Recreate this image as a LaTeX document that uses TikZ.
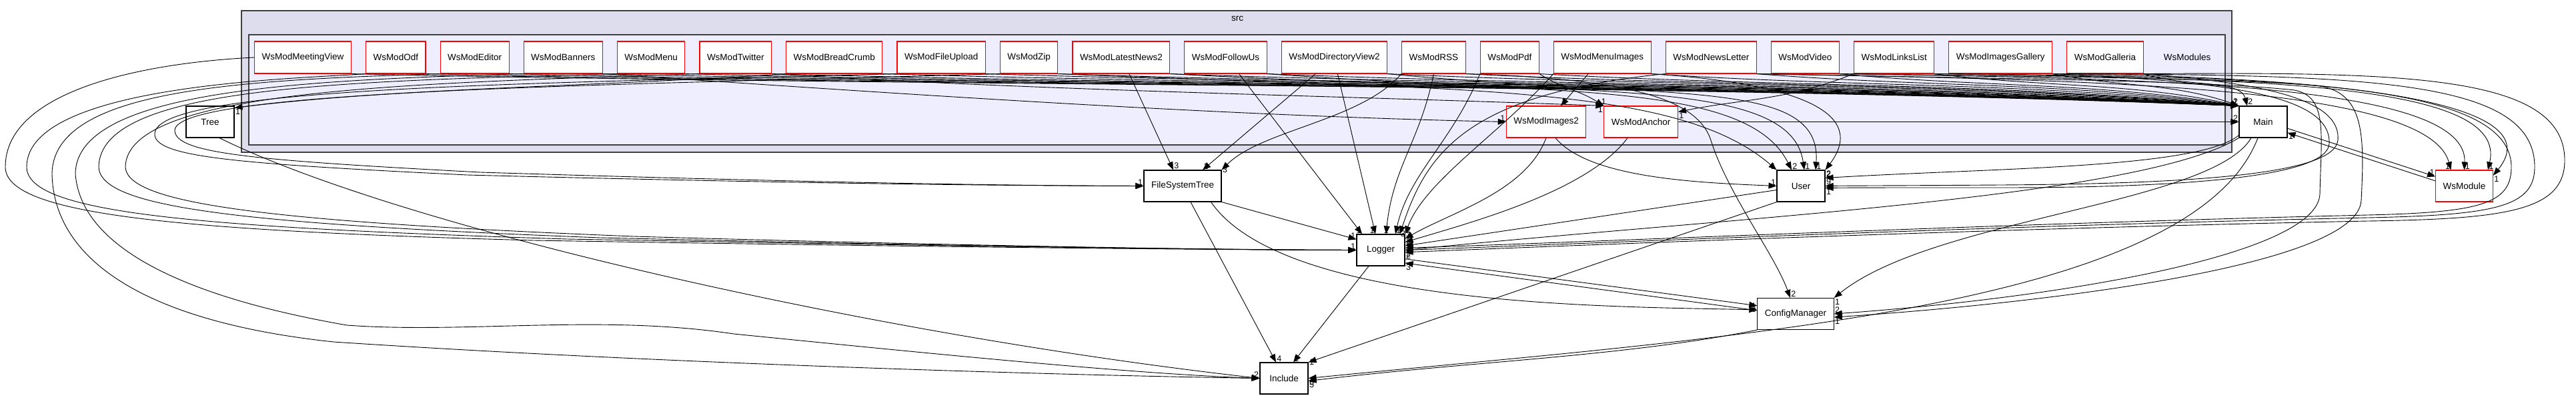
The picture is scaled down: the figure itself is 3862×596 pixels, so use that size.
\documentclass[tikz,border=0pt]{standalone}
\usepackage{fontspec}
\setmainfont{Liberation Sans}
\usetikzlibrary{arrows.meta,positioning}
\definecolor{srcbg}{RGB}{221,221,238}
\definecolor{modbg}{RGB}{238,238,255}
\definecolor{clustline}{RGB}{64,64,64}

\begin{document}
\begin{tikzpicture}[x=1pt, y=1pt,
      mod/.style={draw=red, fill=white, line width=1.1pt,
                  minimum height=48pt, inner xsep=11pt,
                  font=\fontsize{13.5}{16}\selectfont},
      dirbox/.style={draw=black, fill=white, line width=1.1pt,
                  minimum height=47pt, minimum width=72pt, inner xsep=11pt,
                  font=\fontsize{13.5}{16}\selectfont},
      reddir/.style={dirbox, draw=red},
      clust/.style={draw=clustline, line width=1.8pt},
      dep/.style={-{Triangle[length=12pt,width=9pt]}, line width=0.9pt},
      num/.style={font=\fontsize{12.5}{13}\selectfont, inner sep=1pt}
  ]
    \useasboundingbox (0,0) rectangle (3862,-596);
    % clusters
    \draw[clust, fill=srcbg] (362,-16) rectangle (3346,-228);
    \draw[clust, fill=modbg] (373,-52) rectangle (3336,-217);
    \node[font=\fontsize{13.5}{16}\selectfont] (srclbl) at (1855,-28) {src};
    \node[font=\fontsize{13.5}{16}\selectfont] (modlbl) at (3279,-86) {WsModules};

    % top row of modules
    \node[mod] (meeting) at (454,-86) {WsModMeetingView};
    \node[mod, right=21pt of meeting] (odf) {WsModOdf};
    \node[mod, right=21pt of odf] (editor) {WsModEditor};
    \node[mod, right=21pt of editor] (banners) {WsModBanners};
    \node[mod, right=21pt of banners] (menu) {WsModMenu};
    \node[mod, right=21pt of menu] (twitter) {WsModTwitter};
    \node[mod, right=21pt of twitter] (bread) {WsModBreadCrumb};
    \node[mod, right=21pt of bread] (upload) {WsModFileUpload};
    \node[mod, right=21pt of upload] (zip) {WsModZip};
    \node[mod, right=21pt of zip] (news2) {WsModLatestNews2};
    \node[mod, right=21pt of news2] (follow) {WsModFollowUs};
    \node[mod, right=21pt of follow] (dirview) {WsModDirectoryView2};
    \node[mod, right=21pt of dirview] (rss) {WsModRSS};
    \node[mod, right=21pt of rss] (pdf) {WsModPdf};
    \node[mod, right=21pt of pdf] (menuimg) {WsModMenuImages};
    \node[mod, right=21pt of menuimg] (newsl) {WsModNewsLetter};
    \node[mod, right=21pt of newsl] (video) {WsModVideo};
    \node[mod, right=21pt of video] (links) {WsModLinksList};
    \node[mod, right=21pt of links] (gallery) {WsModImagesGallery};
    \node[mod, right=21pt of gallery] (galleria) {WsModGalleria};

    % other directories
    \node[dirbox] (tree) at (315,-182.5) {Tree};
    \node[reddir] (images2) at (2318,-182.5) {WsModImages2};
    \node[reddir, right=26pt of images2] (anchor) {WsModAnchor};
    \node[dirbox] (main) at (3393,-182.5) {Main};
    \node[dirbox] (fst) at (1773,-278.5) {FileSystemTree};
    \node[dirbox] (user) at (2700,-278.5) {User};
    \node[reddir] (wsmodule) at (3694.5,-278.5) {WsModule};
    \node[dirbox] (logger) at (2070,-374.5) {Logger};
    \node[dirbox] (config) at (2692,-470) {ConfigManager};
    \node[dirbox] (include) at (1925,-566.5) {Include};

    % every module -> Main
    \draw[dep] (meeting.south east) .. controls +(900,-20) and +(-900,35) .. (main.north west) node[num,anchor=south east]{1};
    \draw[dep] (odf.south east) .. controls +(870,-20) and +(-870,35) .. (main.north west);
    \draw[dep] (editor.south east) .. controls +(830,-20) and +(-830,35) .. (main.north west) node[num,anchor=south east]{2};
    \draw[dep] (banners.south east) .. controls +(800,-20) and +(-800,35) .. (main.north west);
    \draw[dep] (menu.south east) .. controls +(760,-20) and +(-760,35) .. (main.north west);
    \draw[dep] (twitter.south east) .. controls +(720,-20) and +(-720,35) .. (main.north west);
    \draw[dep] (bread.south east) .. controls +(680,-20) and +(-680,35) .. (main.north west);
    \draw[dep] (upload.south east) .. controls +(630,-20) and +(-630,35) .. (main.north west);
    \draw[dep] (zip.south east) .. controls +(600,-20) and +(-600,35) .. (main.north west);
    \draw[dep] (news2.south east) .. controls +(550,-20) and +(-550,35) .. (main.north west);
    \draw[dep] (follow.south east) .. controls +(500,-20) and +(-500,35) .. (main.north west);
    \draw[dep] (dirview.south east) .. controls +(440,-20) and +(-440,35) .. (main.north west);
    \draw[dep] (rss.south east) .. controls +(400,-20) and +(-400,35) .. (main.north west);
    \draw[dep] (pdf.south east) .. controls +(360,-20) and +(-360,35) .. (main.north west);
    \draw[dep] (menuimg.south east) .. controls +(300,-20) and +(-300,35) .. (main.north west);
    \draw[dep] (newsl.south east) .. controls +(250,-20) and +(-250,35) .. (main.north west);
    \draw[dep] (video.south east) .. controls +(210,-20) and +(-210,35) .. (main.north west);
    \draw[dep] (links.south east) .. controls +(160,-20) and +(-160,35) .. (main.north west);
    \draw[dep] (gallery.south east) .. controls +(100,-20) and +(-100,35) .. (main.north west);
    \draw[dep] (galleria.south east) .. controls +(60,-20) and +(-10,40) .. ([xshift=-24pt]main.north) node[num,anchor=south west]{2};

    % loops round the left side
    \draw[dep] (meeting.west) .. controls (200,-95) and (8,-140) .. (8,-250)
      .. controls (8,-320) and (250,-345) .. (800,-360)
      .. controls (1400,-370) and (1800,-374) .. (logger.west) node[num,anchor=south east]{1};
    \draw[dep] (odf.south west) .. controls (450,-118) and (40,-125) .. (40,-250)
      .. controls (40,-318) and (280,-340) .. (850,-358)
      .. controls (1400,-368) and (1800,-374) .. (logger.west);
    \draw[dep] (menu.south west) .. controls (500,-122) and (150,-130) .. (148,-250)
      .. controls (150,-310) and (350,-335) .. (900,-356)
      .. controls (1400,-368) and (1800,-374) .. (logger.west);
    \draw[dep] (twitter.south west) .. controls (600,-125) and (190,-135) .. (188,-250)
      .. controls (190,-305) and (400,-332) .. (950,-354)
      .. controls (1400,-367) and (1800,-374) .. (logger.west);
    \draw[dep] (editor.south west) .. controls (350,-120) and (80,-135) .. (78,-260)
      .. controls (80,-380) and (200,-480) .. (500,-512)
      .. controls (1000,-545) and (1600,-562) .. (include.west) node[num,anchor=south east]{2};
    \draw[dep] (banners.south west) .. controls (450,-120) and (115,-135) .. (113,-260)
      .. controls (120,-360) and (250,-440) .. (520,-487)
      .. controls (700,-500) and (900,-470) .. (1100,-500)
      .. controls (1400,-530) and (1700,-560) .. (include.west);
    \draw[dep] (upload.south west) .. controls (800,-125) and (235,-130) .. (232,-200)
      .. controls (230,-235) and (350,-245) .. (700,-262)
      .. controls (1200,-275) and (1500,-278) .. (fst.west) node[num,anchor=south east]{1};
    \draw[dep] (zip.south west) .. controls (900,-128) and (265,-135) .. (262,-195)
      .. controls (262,-230) and (380,-240) .. (720,-258)
      .. controls (1200,-273) and (1500,-278) .. (fst.west);
    \draw[dep] (bread.south west) .. controls +(-300,-20) and +(250,30) .. (tree.30) node[num,anchor=north west]{1};
    \draw[dep] (tree.-60) .. controls (600,-340) and (1300,-500) .. (include.west);

    % straight down from the modules
    \draw[dep] ([xshift=12pt]news2.south) -- node[num,pos=1,anchor=south west]{3} ([xshift=-14pt]fst.north);
    \draw[dep] ([xshift=-28pt]dirview.south) -- node[num,pos=1,anchor=south west]{1} ([xshift=30pt]fst.north);
    \draw[dep] (rss.south west) .. controls +(-60,-70) and +(60,60) .. (fst.north east) node[num,anchor=west]{3};
    \draw[dep] ([xshift=20pt]follow.south) -- node[num,pos=1,anchor=south east]{1} ([xshift=-28pt]logger.north);
    \draw[dep] ([xshift=5pt]dirview.south) -- node[num,pos=1,anchor=south east]{1} ([xshift=-8pt]logger.north);
    \draw[dep] (rss.south) .. controls +(-20,-100) and +(10,100) .. ([xshift=8pt]logger.north) node[num,anchor=south]{1};
    \draw[dep] (pdf.south west) .. controls +(-40,-100) and +(20,90) .. ([xshift=22pt]logger.north) node[num,anchor=south west]{1};
    \draw[dep] (menuimg.south west) .. controls +(-80,-90) and +(30,80) .. (logger.north east) node[num,anchor=south west]{2};
    \draw[dep] (newsl.south west) .. controls +(-300,-30) and +(40,120) .. (logger.40) node[num,anchor=west]{3};
    \draw[dep] (rss.south east) .. controls (2450,-118) and (2545,-150) .. (2565,-210)
      .. controls (2590,-290) and (2660,-380) .. ([xshift=-8pt]config.north) node[num,anchor=south west]{2};
    \draw[dep] ([xshift=-21pt]menuimg.south) -- node[num,pos=1,anchor=south west]{1} ([xshift=22pt]images2.north);
    \draw[dep] (banners.south east) .. controls +(450,-30) and +(-450,10) .. (images2.west) node[num,anchor=south east]{1};
    \draw[dep] (pdf.south east) .. controls +(40,-25) and +(-40,25) .. (anchor.north west) node[num,anchor=south]{1};
    \draw[dep] (twitter.south east) .. controls +(400,-25) and +(-400,15) .. (anchor.north west) node[num,anchor=north east]{1};
    \draw[dep] (links.south west) .. controls +(-100,-40) and +(100,20) .. (anchor.15) node[num,anchor=north west]{1};

    % modules -> User from above
    \draw[dep] (zip.south east) .. controls +(600,-25) and +(-150,130) .. (user.north west) node[num,anchor=south east]{1};
    \draw[dep] (news2.south east) .. controls +(550,-30) and +(-70,140) .. ([xshift=-14pt]user.north) node[num,anchor=south west]{2};
    \draw[dep] (follow.south east) .. controls +(480,-35) and +(-20,140) .. ([xshift=5pt]user.north) node[num,anchor=south west]{1};
    \draw[dep] (dirview.south east) .. controls +(420,-40) and +(10,140) .. ([xshift=22pt]user.north) node[num,anchor=south west]{1};
    \draw[dep] (menuimg.south east) .. controls (2700,-125) and (2800,-170) .. (user.north east) node[num,anchor=north west]{2};

    % lower directories
    \draw[dep] (images2.south) .. controls +(-30,-80) and +(70,40) .. (logger.25) node[num,anchor=south west]{3};
    \draw[dep] ([xshift=14pt]images2.south) .. controls +(50,-60) and +(-120,5) .. (user.west) node[num,anchor=south east]{1};
    \draw[dep] ([xshift=-20pt]anchor.south) .. controls +(-60,-80) and +(100,30) .. (logger.18) node[num,anchor=west]{2};
    \draw[dep] (anchor.east) -- node[num,pos=1,anchor=south east]{2} (main.west);
    \draw[dep] (fst.south east) -- node[num,pos=1,anchor=south east]{1} ([yshift=-8pt]logger.north west);
    \draw[dep] ([xshift=12pt]fst.south) -- node[num,pos=1,anchor=south west]{4} ([xshift=-12pt]include.north);
    \draw[dep] ([xshift=-16pt]fst.south east) .. controls +(110,-160) and +(-200,5) .. ([yshift=6pt]config.west) node[num,anchor=south east]{1};
    \draw[dep] ([xshift=-18pt]logger.south) -- node[num,pos=1,anchor=south west]{2} ([xshift=14pt]include.north);
    \draw[dep] (logger.-20) -- node[num,pos=1,anchor=north east]{6} (config.168);
    \draw[dep] (config.175) -- node[num,pos=1,anchor=north west]{3} (logger.-28);
    \draw[dep] (config.south west) .. controls +(-200,-40) and +(250,30) .. ([yshift=-4pt]include.east) node[num,anchor=north west]{5};
    \draw[dep] ([yshift=-6pt]user.west) -- node[num,pos=1,anchor=north west]{2} (logger.10);
    \draw[dep] (user.south west) -- node[num,pos=1,anchor=west]{1} (include.north east);
    \draw[dep] (main.south west) .. controls +(-150,-90) and +(500,50) .. (logger.east) node[num,anchor=north west]{2};
    \draw[dep] ([yshift=4pt]main.south west) .. controls +(-60,-50) and +(250,15) .. ([yshift=12pt]user.east) node[num,anchor=south west]{2};
    \draw[dep] ([xshift=-18pt]main.south) .. controls +(-60,-100) and +(150,120) .. (config.north east) node[num,anchor=north west]{1};
    \draw[dep] ([xshift=-8pt]main.south) .. controls +(-100,-260) and +(600,60) .. (include.east) node[num,anchor=north west]{6};
    \draw[dep] (main.-15) -- node[num,pos=1,anchor=south east]{1} (wsmodule.162);
    \draw[dep] (wsmodule.170) -- node[num,pos=1,anchor=north west]{1} (main.-24);

    % loops round the right side
    \draw[dep] (newsl.south east) .. controls (3150,-120) and (3640,-128) .. ([xshift=-20pt]wsmodule.north) node[num,anchor=south east]{1};
    \draw[dep] (video.south east) .. controls (3250,-118) and (3700,-126) .. (wsmodule.north) node[num,anchor=south west]{1};
    \draw[dep] (links.south east) .. controls (3400,-118) and (3760,-125) .. ([xshift=-8pt]wsmodule.north east) node[num,anchor=south west]{1};
    \draw[dep] (gallery.south east) .. controls (3500,-115) and (3830,-150) .. (wsmodule.20) node[num,anchor=north west]{1};
    \draw[dep] (links.south east) .. controls (3400,-115) and (3765,-120) .. (3765,-250)
      .. controls (3765,-305) and (3720,-318) .. (3550,-322)
      .. controls (3000,-335) and (2400,-362) .. (logger.5) node[num,anchor=south west]{3};
    \draw[dep] (gallery.south east) .. controls (3550,-112) and (3800,-118) .. (3800,-250)
      .. controls (3800,-310) and (3740,-322) .. (3550,-326)
      .. controls (3000,-338) and (2400,-364) .. (logger.east);
    \draw[dep] (galleria.south east) .. controls (3600,-108) and (3845,-110) .. (3845,-240)
      .. controls (3845,-315) and (3760,-328) .. (3550,-331)
      .. controls (3000,-342) and (2400,-366) .. (logger.-5) node[num,anchor=north west]{2};
    \draw[dep] (newsl.south east) .. controls (3000,-118) and (3300,-120) .. (3440,-135)
      .. controls (3490,-145) and (3480,-200) .. (3478,-290)
      .. controls (3476,-380) and (3100,-445) .. (config.east) node[num,anchor=south west]{2};
    \draw[dep] (video.south east) .. controls (3100,-115) and (3350,-118) .. (3470,-128)
      .. controls (3545,-135) and (3545,-200) .. (3540,-300)
      .. controls (3535,-400) and (3050,-455) .. ([yshift=-5pt]config.east) node[num,anchor=north west]{1};
    \draw[dep] (galleria.south east) .. controls (3400,-125) and (3510,-150) .. (3505,-210)
      .. controls (3500,-260) and (3300,-275) .. (3000,-277)
      .. controls (2850,-278) and (2780,-278) .. (user.east) node[num,anchor=south west]{9};
    \draw[dep] (gallery.south east) .. controls (3350,-122) and (3495,-145) .. (3492,-215)
      .. controls (3490,-262) and (3300,-281) .. (3000,-281)
      .. controls (2850,-281) and (2780,-281) .. ([yshift=-3pt]user.east) node[num,anchor=north west]{1};
  \end{tikzpicture}
\end{document}
